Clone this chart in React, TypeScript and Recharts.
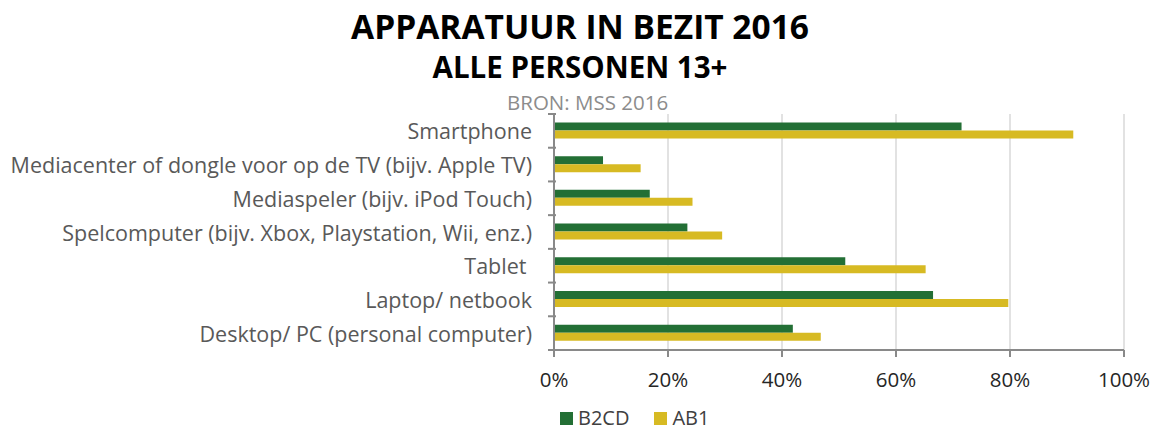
import React from 'react';
import { BarChart, Bar, XAxis, YAxis, CartesianGrid, Legend } from 'recharts';

const categories = [
  'Smartphone',
  'Mediacenter of dongle voor op de TV (bijv. Apple TV)',
  'Mediaspeler (bijv. iPod Touch)',
  'Spelcomputer (bijv. Xbox, Playstation, Wii, enz.)',
  'Tablet ',
  'Laptop/ netbook',
  'Desktop/ PC (personal computer)',
];
const b2cd = [71.5, 8.6, 16.8, 23.4, 51.1, 66.5, 41.9];
const ab1 = [91.1, 15.2, 24.3, 29.5, 65.2, 79.7, 46.8];
const xTicks = [0, 20, 40, 60, 80, 100];
const seriesOrder = ['B2CD', 'AB1'];

const data = categories.map((name, i) => ({ name, B2CD: b2cd[i], AB1: ab1[i] }));

const FONT = '"Open Sans", "Noto Sans", sans-serif';
const GREEN = '#236F35';
const YELLOW = '#D7BA23';
const AXIS = '#898989';

const YTick = (props: any) => {
  const { x, y, payload, index, visibleTicksCount } = props;
  const off = payload && typeof payload.offset === 'number' ? payload.offset : 16.9;
  const label = String(payload.value).replace(/ $/, '\u00a0');
  const count = visibleTicksCount ?? categories.length;
  return (
    <g>
      <line x1={x + 2} x2={x + 10} y1={y - off} y2={y - off} stroke={AXIS} strokeWidth={2} />
      {index === count - 1 && (
        <line x1={x + 2} x2={x + 10} y1={y + off} y2={y + off} stroke={AXIS} strokeWidth={2} />
      )}
      <text x={x - 14} y={y} textAnchor="end" dominantBaseline="central" fill="#595959" fontSize={21.5} fontFamily={FONT}>
        {label}
      </text>
    </g>
  );
};

const LegendContent = (props: any) => {
  const items = [...(props.payload || [])].sort(
    (a: any, b: any) => seriesOrder.indexOf(a.value) - seriesOrder.indexOf(b.value)
  );
  return (
    <div style={{ display: 'flex', justifyContent: 'flex-start', paddingLeft: 560, fontFamily: FONT, fontSize: 20, color: '#404040', lineHeight: '26px' }}>
      {items.map((it: any) => (
        <div key={it.value} style={{ display: 'flex', alignItems: 'center', marginRight: 25 }}>
          <span style={{ display: 'inline-block', width: 13, height: 13, background: it.color, marginRight: 5 }} />
          <span>{it.value}</span>
        </div>
      ))}
    </div>
  );
};

export default function App() {
  return (
    <div style={{ position: 'absolute', left: 0, top: 0, width: 1160, height: 432, background: '#fff' }}>
      <div style={{ position: 'absolute', left: 0, top: 4, width: 1160, textAlign: 'center', fontFamily: FONT, fontWeight: 700, fontSize: 33.5, color: '#000', lineHeight: '44px' }}>
        APPARATUUR IN BEZIT 2016
      </div>
      <div style={{ position: 'absolute', left: 0, top: 47, width: 1160, textAlign: 'center', fontFamily: FONT, fontWeight: 700, fontSize: 29.5, color: '#000', lineHeight: '40px' }}>
        ALLE PERSONEN 13+
      </div>
      <div style={{ position: 'absolute', left: 507, top: 89, fontFamily: FONT, fontSize: 20.5, color: '#8c8c8c', lineHeight: '26px' }}>
        BRON: MSS 2016
      </div>
      <BarChart
        width={1160}
        height={432}
        data={data}
        layout="vertical"
        margin={{ top: 114, right: 36, left: 0, bottom: 26 }}
        barCategoryGap="25%"
        barGap={0}
        style={{ position: 'absolute', left: 0, top: 0 }}
      >
        <CartesianGrid horizontal={false} stroke="#d9d9d9" strokeWidth={1.5} />
        <XAxis
          type="number"
          domain={[0, 100]}
          ticks={xTicks}
          tickFormatter={(v: number) => `${v}%`}
          stroke={AXIS}
          strokeWidth={2}
          tickSize={7}
          tick={{ fill: '#262626', fontSize: 20.5, fontFamily: FONT }}
          tickMargin={15}
          height={30}
          interval={0}
        />
        <XAxis xAxisId="top" orientation="top" type="number" domain={[0, 100]} height={0} tick={false} tickLine={false} axisLine={{ stroke: '#cfcfcf', strokeWidth: 1.5 }} />
        <YAxis
          type="category"
          dataKey="name"
          width={554}
          axisLine={{ stroke: AXIS, strokeWidth: 2 }}
          tickLine={false}
          tick={<YTick />}
          interval={0}
        />
        <Legend verticalAlign="bottom" wrapperStyle={{ height: 26, top: 405, bottom: 'auto' }} content={<LegendContent />} />
        <Bar dataKey="B2CD" fill={GREEN} isAnimationActive={false} />
        <Bar dataKey="AB1" fill={YELLOW} isAnimationActive={false} />
      </BarChart>
    </div>
  );
}
